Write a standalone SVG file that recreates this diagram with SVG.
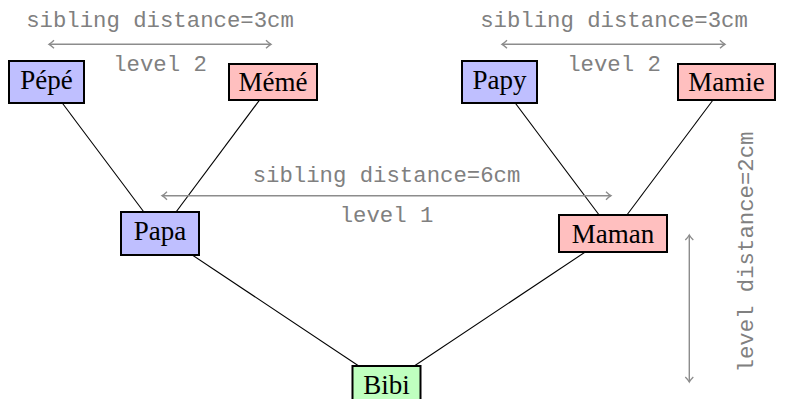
<svg xmlns="http://www.w3.org/2000/svg" width="797" height="399" viewBox="0 0 797 399">
<defs>
<style>
.box{stroke:#000;stroke-width:2}
.blue{fill:#BFBFFF}.red{fill:#FFBFBF}.green{fill:#BFFFBF}
.lbl{font-family:"Liberation Serif","Times New Roman",serif;font-size:27px;fill:#000;text-anchor:middle}
.edge{stroke:#000;stroke-width:1.1;fill:none}
.dim{stroke:#8c8c8c;stroke-width:1.4;fill:none;marker-start:url(#ah);marker-end:url(#ah)}
.note{font-family:"Liberation Mono","DejaVu Sans Mono",monospace;font-size:22.3px;fill:#808080;text-anchor:middle}
</style>
<marker id="ah" viewBox="-6 -5 8 10" markerWidth="8" markerHeight="10" refX="0" refY="0" orient="auto-start-reverse" markerUnits="userSpaceOnUse">
<path d="M-5,-4 Q-2,-1 0,0 Q-2,1 -5,4" stroke="#8c8c8c" stroke-width="1.3" fill="none"/>
</marker>
</defs>
<rect width="797" height="399" fill="#fff"/>
<g id="connectors">
<line class="edge" x1="46.5" y1="82" x2="160" y2="233.5"/>
<line class="edge" x1="273" y1="82" x2="160" y2="233.5"/>
<line class="edge" x1="499.5" y1="82" x2="613" y2="233.5"/>
<line class="edge" x1="726.5" y1="82" x2="613" y2="233.5"/>
<line class="edge" x1="160" y1="233.5" x2="386.5" y2="384.5"/>
<line class="edge" x1="613" y1="233.5" x2="386.5" y2="384.5"/>
</g>
<g id="annotations">
<text class="note" x="160" y="27">sibling distance=3cm</text>
<line class="dim" x1="49" y1="44.3" x2="271" y2="44.3"/>
<text class="note" x="160" y="70.5">level 2</text>
<text class="note" x="614" y="27">sibling distance=3cm</text>
<line class="dim" x1="502" y1="44.3" x2="725" y2="44.3"/>
<text class="note" x="614" y="70.5">level 2</text>
<text class="note" x="386.5" y="182">sibling distance=6cm</text>
<line class="dim" x1="162" y1="195.7" x2="611" y2="195.7"/>
<text class="note" x="386.5" y="221.5">level 1</text>
<line class="dim" x1="689.3" y1="235" x2="689.3" y2="382"/>
<text class="note" transform="translate(753 252) rotate(-90)" x="0" y="0">level distance=2cm</text>
</g>
<g id="pepe"><rect class="box blue" x="9" y="61" width="75" height="42"/><text class="lbl" x="46.5" y="88.5">Pépé</text></g>
<g id="meme"><rect class="box red" x="229" y="64" width="88" height="36"/><text class="lbl" x="273" y="91">Mémé</text></g>
<g id="papy"><rect class="box blue" x="462" y="61" width="75" height="42"/><text class="lbl" x="499.5" y="88.5">Papy</text></g>
<g id="mamie"><rect class="box red" x="678" y="64" width="97" height="36"/><text class="lbl" x="726.5" y="91">Mamie</text></g>
<g id="papa"><rect class="box blue" x="121" y="212" width="78" height="43"/><text class="lbl" x="160" y="240">Papa</text></g>
<g id="maman"><rect class="box red" x="559" y="215" width="108" height="37"/><text class="lbl" x="613" y="242.5">Maman</text></g>
<g id="bibi"><rect class="box green" x="352.5" y="366" width="68" height="37"/><text class="lbl" x="386.5" y="393.5">Bibi</text></g>
</svg>
